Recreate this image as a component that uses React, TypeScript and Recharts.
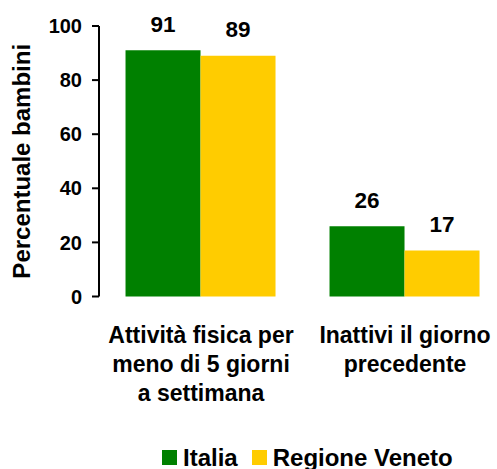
import React from "react";
import { BarChart, Bar, XAxis, YAxis, Legend, LabelList } from "recharts";

const categories = [
  "Attività fisica per\nmeno di 5 giorni\na settimana",
  "Inattivi il giorno\nprecedente",
];
const italia = [91, 26];
const veneto = [89, 17];
const seriesNames = ["Italia", "Regione Veneto"];
const seriesColors = ["#008000", "#FFCC00"];
const yTicks = [0, 20, 40, 60, 80, 100];
const yAxisTitle = "Percentuale bambini";

const data = categories.map((c, i) => ({ category: c, italia: italia[i], veneto: veneto[i] }));

const FONT = "'Liberation Sans', Arial, Helvetica, sans-serif";

const CategoryTick = (props: any) => {
  const { x, y, payload } = props;
  const lines = String(payload.value).split("\n");
  return (
    <g>
      {lines.map((ln: string, i: number) => (
        <text
          key={i}
          x={x}
          y={y + 46 + i * 29}
          textAnchor="middle"
          fontFamily={FONT}
          fontWeight="bold"
          fontSize={23}
          fill="#000"
        >
          {ln}
        </text>
      ))}
    </g>
  );
};

const YTitle = (props: any) => {
  const vb = props.viewBox || { x: 0, y: 0, width: 0, height: 0 };
  const cx = vb.x + 21;
  const cy = vb.y + vb.height / 2;
  return (
    <text
      x={cx}
      y={cy}
      transform={`rotate(-90, ${cx}, ${cy})`}
      textAnchor="middle"
      dominantBaseline="central"
      fontFamily={FONT}
      fontWeight="bold"
      fontSize={24}
      fill="#000"
    >
      {yAxisTitle}
    </text>
  );
};

const LegendContent = () => (
  <div style={{ display: "flex", alignItems: "center", fontFamily: FONT, fontWeight: "bold", fontSize: 24, lineHeight: "23px", color: "#000", whiteSpace: "nowrap" }}>
    {seriesNames.map((n, i) => (
      <div key={n} style={{ display: "flex", alignItems: "center", marginRight: i === 0 ? 14 : 0 }}>
        <div style={{ width: 15, height: 15, background: seriesColors[i], marginRight: 6 }} />
        <span>{n}</span>
      </div>
    ))}
  </div>
);

export default function App() {
  return (
    <div style={{ position: "absolute", left: 0, top: 0, width: 497, height: 469, overflow: "hidden", background: "#fff" }}>
      <BarChart
        width={520}
        height={469}
        data={data}
        margin={{ top: 26, right: 13, bottom: 0, left: 0 }}
        barCategoryGap="13%"
        barGap={0}
      >
        <XAxis
          dataKey="category"
          axisLine={false}
          tickLine={false}
          tickSize={0}
          tickMargin={0}
          height={172.5}
          interval={0}
          tick={<CategoryTick />}
        />
        <YAxis
          width={99}
          domain={[0, 100]}
          ticks={yTicks}
          interval={0}
          axisLine={{ stroke: "#000", strokeWidth: 2 }}
          tickLine={{ stroke: "#000", strokeWidth: 2 }}
          tickSize={7}
          tickMargin={10}
          tick={{ fill: "#000", fontFamily: FONT, fontWeight: "bold", fontSize: 20 }}
          label={{ content: <YTitle /> }}
        />
        <Legend
          layout="horizontal"
          verticalAlign="middle"
          align="center"
          content={<LegendContent />}
          wrapperStyle={{ top: 446, left: 162, width: "auto", height: 23 }}
        />
        <Bar dataKey="italia" name={seriesNames[0]} fill={seriesColors[0]} isAnimationActive={false}>
          <LabelList dataKey="italia" position="top" offset={18.5} fill="#000" fontFamily={FONT} fontWeight="bold" fontSize={22.5} />
        </Bar>
        <Bar dataKey="veneto" name={seriesNames[1]} fill={seriesColors[1]} isAnimationActive={false}>
          <LabelList dataKey="veneto" position="top" offset={18.5} fill="#000" fontFamily={FONT} fontWeight="bold" fontSize={22.5} />
        </Bar>
      </BarChart>
    </div>
  );
}
